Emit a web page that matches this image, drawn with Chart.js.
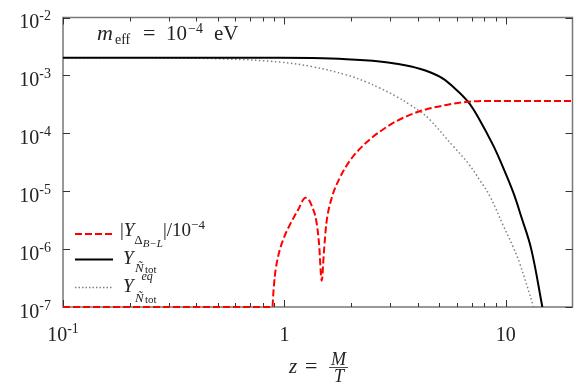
<!DOCTYPE html>
<html>
<head>
<meta charset="utf-8">
<script src="https://cdn.jsdelivr.net/npm/chart.js@4/dist/chart.umd.min.js"></script>
<style>
  html, body { margin: 0; padding: 0; background: #fff; }
  #plotDiv { width: 581px; height: 389px; }
</style>
</head>
<body>
<div id="plotDiv"><canvas id="plot" width="581" height="389"></canvas></div>
<script>
// values (log-log axes)
var zDelta = [0.1, 0.883, 0.890, 0.904, 0.936, 0.986, 1.057, 1.152, 1.244, 1.281, 1.324, 1.395, 1.433, 1.474, 1.510, 1.547, 1.630, 1.777, 1.971, 2.188, 2.512, 2.818, 3.204, 4.082, 5.387, 6.745, 8.5, 20];
var yDelta = [1e-7, 1e-7, 1.61e-7, 3.33e-7, 7.39e-7, 1.44e-6, 2.61e-6, 4.73e-6, 7.73e-6, 7.33e-6, 5.78e-6, 2.97e-6, 1.26e-6, 2.84e-7, 9.64e-7, 2.79e-6, 7.33e-6, 1.69e-5, 3.33e-5, 5.37e-5, 8.7e-5, 1.20e-4, 1.62e-4, 2.40e-4, 3.09e-4, 3.5e-4, 3.63e-4, 3.63e-4];

var zTot = [0.1, 0.952, 1.342, 1.905, 2.693, 3.204, 4.082, 5.024, 5.77, 6.745, 7.616, 8.745, 9.544, 10.77, 11.79, 13.03, 14.62];
var yTot = [2.02e-3, 2.02e-3, 1.99e-3, 1.90e-3, 1.74e-3, 1.59e-3, 1.30e-3, 9.5e-4, 6.38e-4, 3.52e-4, 1.70e-4, 6.31e-5, 3.02e-5, 9.8e-6, 3.44e-6, 9.9e-7, 1.0e-7];

var zEq = [0.1, 0.247, 0.549, 0.952, 1.342, 1.905, 2.346, 2.693, 3.204, 3.679, 4.155, 4.529, 5.77, 6.745, 7.616, 8.452, 9.70, 10.77, 11.54, 13.35];
var yEq = [2.02e-3, 2.01e-3, 1.92e-3, 1.70e-3, 1.41e-3, 1.02e-3, 7.69e-4, 6.05e-4, 4.33e-4, 3.14e-4, 2.29e-4, 1.73e-4, 6.04e-5, 3.07e-5, 1.56e-5, 8.32e-6, 2.63e-6, 1.10e-6, 5.75e-7, 1.0e-7];

var xMajor = [0.1, 1, 10];
var xMajorLabels = [['10', '-1'], ['1', ''], ['10', '']];
var xMinor = [0.2, 0.3, 0.4, 0.5, 0.6, 0.7, 0.8, 0.9, 2, 3, 4, 5, 6, 7, 8, 9];
var yMajor = [1e-2, 1e-3, 1e-4, 1e-5, 1e-6, 1e-7];
var yMajorLabels = ['-2', '-3', '-4', '-5', '-6', '-7'];

var SERIF = "'Liberation Serif', 'DejaVu Serif', serif";
var TXT = '#222';

function pts(xs, ys) {
    return xs.map(function (x, i) { return {x: x, y: ys[i]}; });
}

// draws a run of text pieces: [text, size, dy, italic]
function drawRich(ctx, x, y, runs, align) {
    var w = 0;
    runs.forEach(function (r) {
        ctx.font = (r[3] ? 'italic ' : '') + r[1] + 'px ' + SERIF;
        w += ctx.measureText(r[0]).width;
    });
    var cx = x;
    if (align === 'right') cx = x - w;
    if (align === 'center') cx = x - w / 2;
    ctx.fillStyle = TXT;
    ctx.textAlign = 'left';
    ctx.textBaseline = 'alphabetic';
    runs.forEach(function (r) {
        ctx.font = (r[3] ? 'italic ' : '') + r[1] + 'px ' + SERIF;
        ctx.fillText(r[0], cx, y + (r[2] || 0));
        cx += ctx.measureText(r[0]).width;
    });
}

// single piece at a fixed spot
function put(ctx, t, x, y, size, italic) {
    ctx.font = (italic ? 'italic ' : '') + size + 'px ' + SERIF;
    ctx.fillStyle = TXT;
    ctx.textAlign = 'left';
    ctx.textBaseline = 'alphabetic';
    ctx.fillText(t, x, y);
}

var framePlugin = {
    id: 'frame',
    beforeDatasetsDraw: function (chart) {
        var ctx = chart.ctx, a = chart.chartArea;
        var xs = chart.scales.x, ys = chart.scales.y;
        ctx.save();
        ctx.strokeStyle = '#777';
        ctx.lineWidth = 1.5;
        ctx.strokeRect(a.left, a.top, a.right - a.left, a.bottom - a.top);

        ctx.strokeStyle = '#333';
        ctx.lineWidth = 1;
        ctx.beginPath();
        xMajor.forEach(function (v) {
            var p = Math.round(xs.getPixelForValue(v)) + 0.5;
            ctx.moveTo(p, a.bottom); ctx.lineTo(p, a.bottom - 7);
            ctx.moveTo(p, a.top); ctx.lineTo(p, a.top + 7);
        });
        xMinor.forEach(function (v) {
            var p = Math.round(xs.getPixelForValue(v)) + 0.5;
            ctx.moveTo(p, a.bottom); ctx.lineTo(p, a.bottom - 4);
            ctx.moveTo(p, a.top); ctx.lineTo(p, a.top + 4);
        });
        yMajor.forEach(function (v) {
            var p = Math.round(ys.getPixelForValue(v)) + 0.5;
            ctx.moveTo(a.left, p); ctx.lineTo(a.left + 7, p);
            ctx.moveTo(a.right, p); ctx.lineTo(a.right - 7, p);
        });
        ctx.stroke();

        // tick labels
        yMajor.forEach(function (v, i) {
            var p = ys.getPixelForValue(v);
            drawRich(ctx, 51, p + 10.5, [['10', 20, 0], [yMajorLabels[i], 14, -8]], 'right');
        });
        xMajor.forEach(function (v, i) {
            var p = xs.getPixelForValue(v);
            var lab = xMajorLabels[i];
            var runs = [[lab[0], 20, 0]];
            if (lab[1]) runs.push([lab[1], 14, -8]);
            drawRich(ctx, p, 340.5, runs, 'center');
        });

        // axis title z = M/T
        put(ctx, 'z', 289, 373, 21, true);
        put(ctx, '=', 305, 373, 22, false);
        drawRich(ctx, 338.5, 365, [['M', 18, 0, true]], 'center');
        drawRich(ctx, 339, 381.5, [['T', 18, 0, true]], 'center');
        ctx.strokeStyle = TXT;
        ctx.lineWidth = 0.8;
        ctx.beginPath();
        ctx.moveTo(329, 367.5); ctx.lineTo(348, 367.5);
        ctx.stroke();

        // annotation m_eff = 10^-4 eV
        put(ctx, 'm', 97, 39.5, 22, true);
        put(ctx, 'eff', 115, 44, 14, false);
        put(ctx, '=', 143, 39.5, 22, false);
        put(ctx, '10', 166, 39.5, 21, false);
        put(ctx, '\u22124', 188, 32.5, 14, false);
        put(ctx, 'eV', 214, 39.5, 21, false);
        ctx.restore();
    },
    afterDatasetsDraw: function (chart) {
        var ctx = chart.ctx;
        ctx.save();
        // legend samples
        var rows = [
            {y: 234, color: '#ff0000', w: 2, dash: [7, 3]},
            {y: 259.5, color: '#000000', w: 2, dash: []},
            {y: 287.5, color: '#808080', w: 1.3, dash: [1.5, 2]}
        ];
        rows.forEach(function (r) {
            ctx.strokeStyle = r.color;
            ctx.lineWidth = r.w;
            ctx.setLineDash(r.dash);
            ctx.beginPath();
            ctx.moveTo(75, r.y); ctx.lineTo(113, r.y);
            ctx.stroke();
        });
        ctx.setLineDash([]);
        // |Y_{Delta_{B-L}}|/10^-4
        drawRich(ctx, 120, 235.5, [['|', 19], ['Y', 19, 0, true], ['\u0394', 13, 8], ['B\u2212L', 11, 11, true], ['|/10', 19, 0], ['\u22124', 13, -7]], 'left');
        // Y_{N~tot}
        put(ctx, 'Y', 123, 263.5, 19, true);
        put(ctx, '\u00D1', 135, 272, 13, true);
        put(ctx, 'tot', 145, 273, 11, false);
        // Y^{eq}_{N~tot}
        put(ctx, 'Y', 123, 291.5, 19, true);
        put(ctx, 'eq', 141.5, 280, 12, true);
        put(ctx, '\u00D1', 135, 301.5, 13, true);
        put(ctx, 'tot', 145, 302.5, 11, false);
        ctx.restore();
    }
};

var data = {
    datasets: [
        {
            label: '|Y_ΔB-L|/1e-4',
            data: pts(zDelta, yDelta),
            borderColor: '#ff0000',
            borderWidth: 2,
            borderDash: [7, 3],
            cubicInterpolationMode: 'monotone',
            clip: false
        },
        {
            label: 'Y_Ntot',
            data: pts(zTot, yTot),
            borderColor: '#000000',
            borderWidth: 2,
            tension: 0.4
        },
        {
            label: 'Y_Ntot eq',
            data: pts(zEq, yEq),
            borderColor: '#808080',
            borderWidth: 1.5,
            borderDash: [1.5, 2.5],
            tension: 0.4
        }
    ]
};

var options = {
    responsive: false,
    devicePixelRatio: 1,
    animation: false,
    layout: {padding: {left: 63, right: 8.5, top: 17.5, bottom: 82}},
    elements: {
        point: {radius: 0},
        line: {fill: false}
    },
    scales: {
        x: {type: 'logarithmic', min: 0.1, max: 20, display: false},
        y: {type: 'logarithmic', min: 1e-7, max: 1e-2, display: false}
    },
    plugins: {
        legend: {display: false},
        tooltip: {enabled: false}
    }
};

var plot = new Chart(document.getElementById('plot'), {
    type: 'line',
    data: data,
    options: options,
    plugins: [framePlugin]
});
</script>
</body>
</html>
